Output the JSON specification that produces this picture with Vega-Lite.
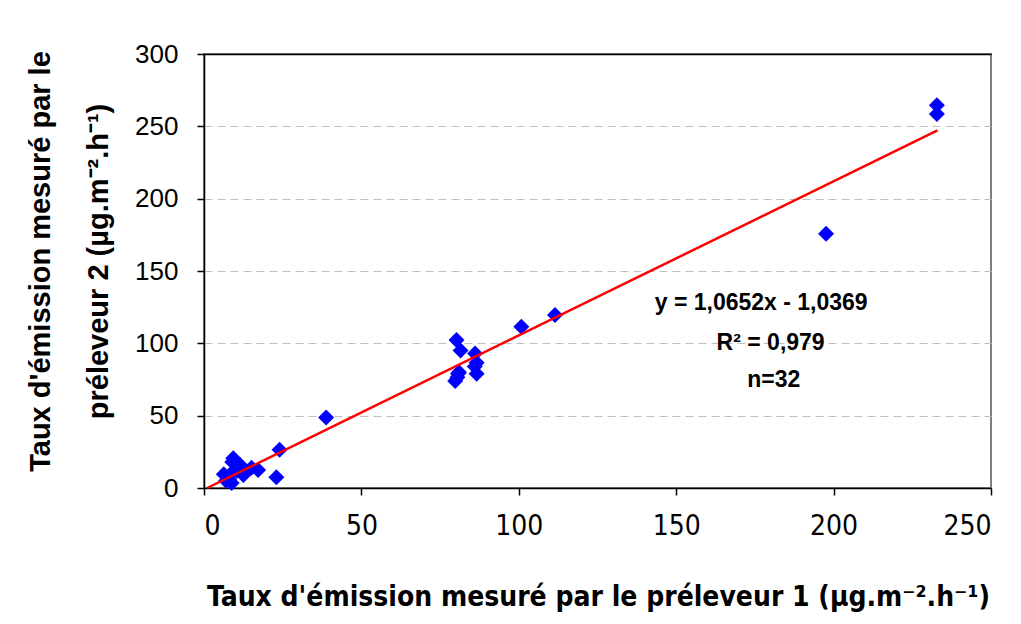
{
  "$schema": "https://vega.github.io/schema/vega-lite/v6.json",
  "autosize": {"type": "none"},
  "width": 787,
  "height": 434,
  "padding": {"left": 204, "top": 54, "right": 30, "bottom": 136},
  "background": "white",
  "config": {
    "font": "Liberation Sans",
    "view": {"stroke": "#808080", "strokeWidth": 2}
  },
  "datasets": {
    "points": [
      {"p1": 232.8, "p2": 264.5},
      {"p1": 232.8, "p2": 258.5},
      {"p1": 197.6, "p2": 175.8},
      {"p1": 111.5, "p2": 119.5},
      {"p1": 100.8, "p2": 111.5},
      {"p1": 38.8, "p2": 48.8},
      {"p1": 80.2, "p2": 102.3},
      {"p1": 81.5, "p2": 95.0},
      {"p1": 86.1, "p2": 93.0},
      {"p1": 86.6, "p2": 86.5},
      {"p1": 86.6, "p2": 79.0},
      {"p1": 80.7, "p2": 79.0},
      {"p1": 79.8, "p2": 74.0},
      {"p1": 80.5, "p2": 76.5},
      {"p1": 86.0, "p2": 84.0},
      {"p1": 81.0, "p2": 80.0},
      {"p1": 24.0, "p2": 26.5},
      {"p1": 23.0, "p2": 7.5},
      {"p1": 9.3, "p2": 20.5},
      {"p1": 11.4, "p2": 16.0},
      {"p1": 17.2, "p2": 12.4},
      {"p1": 15.1, "p2": 14.0},
      {"p1": 12.5, "p2": 9.0},
      {"p1": 7.7, "p2": 8.0},
      {"p1": 8.8, "p2": 3.5},
      {"p1": 6.3, "p2": 9.5},
      {"p1": 10.0, "p2": 13.0},
      {"p1": 13.0, "p2": 10.5},
      {"p1": 8.0, "p2": 6.0},
      {"p1": 10.5, "p2": 12.0},
      {"p1": 9.0, "p2": 18.0},
      {"p1": 7.0, "p2": 5.0}
    ],
    "fit": [
      {"p1": 0.97, "p2": 0.0},
      {"p1": 233.0, "p2": 247.15}
    ],
    "notes": [
      {"p1": 177, "p2": 128, "label": "y = 1,0652x - 1,0369"},
      {"p1": 180, "p2": 100, "label": "R² = 0,979"},
      {"p1": 181, "p2": 75, "label": "n=32"}
    ]
  },
  "layer": [
    {
      "data": {"name": "points"},
      "mark": {"type": "point", "shape": "diamond", "filled": true, "color": "#0000FF", "size": 256, "opacity": 1},
      "encoding": {
        "x": {
          "field": "p1", "type": "quantitative",
          "scale": {"domain": [0, 250], "nice": false},
          "axis": {
            "values": [0, 50, 100, 150, 200, 250],
            "title": "Taux d'émission mesuré par le préleveur 1 (µg.m⁻².h⁻¹)",
            "grid": false,
            "domainColor": "#000000", "domainWidth": 1.5,
            "tickColor": "#000000", "tickWidth": 1.5, "tickSize": 7,
            "labelFont": "'DejaVu Sans Condensed', 'Liberation Sans'", "labelFontSize": 28, "labelColor": "#000000",
            "labelPadding": 17, "labelBaseline": "top",
            "titleFont": "'DejaVu Sans Condensed', 'Liberation Sans'", "titleFontSize": 28, "titleFontWeight": "bold", "titleColor": "#000000",
            "titleX": 394, "titleY": 117, "titleBaseline": "alphabetic", "titleAlign": "center"
          }
        },
        "y": {
          "field": "p2", "type": "quantitative",
          "scale": {"domain": [0, 300], "nice": false},
          "axis": {
            "values": [0, 50, 100, 150, 200, 250, 300],
            "title": ["Taux d'émission mesuré par le", "préleveur 2 (µg.m⁻².h⁻¹)"],
            "grid": true,
            "gridColor": {"condition": {"test": "datum.value === 300", "value": "#000000"}, "value": "#BFBFBF"},
            "gridDash": {"condition": {"test": "datum.value === 300", "value": []}, "value": [8, 5]},
            "gridWidth": {"condition": {"test": "datum.value === 300", "value": 1.5}, "value": 1},
            "domainColor": "#000000", "domainWidth": 1.5,
            "tickColor": "#000000", "tickWidth": 1.5, "tickSize": 7,
            "labelFontSize": 26, "labelColor": "#000000", "labelPadding": 19,
            "titleFontSize": 29, "titleFontWeight": "bold", "titleColor": "#000000",
            "titleAngle": -90, "titleX": -164, "titleY": 207,
            "titleAlign": "center", "titleBaseline": "middle", "titleLineHeight": 58
          }
        }
      }
    },
    {
      "data": {"name": "fit"},
      "mark": {"type": "line", "color": "#FF0000", "strokeWidth": 2.5},
      "encoding": {
        "x": {"field": "p1", "type": "quantitative"},
        "y": {"field": "p2", "type": "quantitative"}
      }
    },
    {
      "data": {"name": "notes"},
      "mark": {"type": "text", "fontSize": 23, "fontWeight": "bold", "color": "#000000", "align": "center", "baseline": "middle"},
      "encoding": {
        "x": {"field": "p1", "type": "quantitative"},
        "y": {"field": "p2", "type": "quantitative"},
        "text": {"field": "label"}
      }
    }
  ]
}
